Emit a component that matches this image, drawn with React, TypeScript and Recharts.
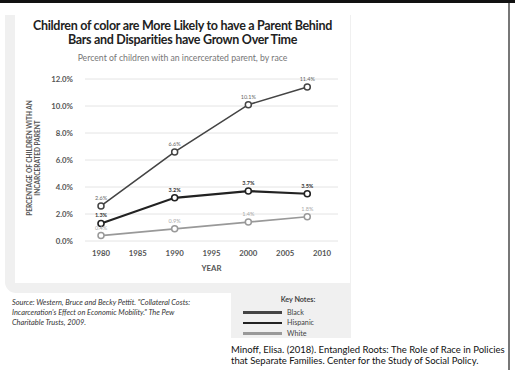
import React from 'react';
import { LineChart, Line, XAxis, YAxis, CartesianGrid, Legend } from 'recharts';

const years = [1980, 1990, 2000, 2008];
const black = [2.6, 6.6, 10.1, 11.4];
const hispanic = [1.3, 3.2, 3.7, 3.5];
const white = [0.4, 0.9, 1.4, 1.8];
const xTicks = [1980, 1985, 1990, 1995, 2000, 2005, 2010];
const yTicks = [0, 2, 4, 6, 8, 10, 12];

const data = years.map((year, i) => ({ year, Black: black[i], Hispanic: hispanic[i], White: white[i] }));

const FONT = 'Lato, sans-serif';
const pct = (v: any) => `${Number(v).toFixed(1)}%`;

const KeyNotes = ({ payload }: any) => (
  <div style={{ fontFamily: FONT, fontSize: 7.2, color: '#444', width: 120, height: 55 }}>
    <div style={{ fontWeight: 700, textAlign: 'center', paddingLeft: 14, marginTop: 12, marginBottom: 3 }}>Key Notes:</div>
    {(payload || []).map((p: any) => (
      <div key={p.value} style={{ display: 'flex', alignItems: 'center', height: 10.5 }}>
        <div style={{ marginLeft: 12, width: 39, height: 2.5, background: p.color }} />
        <span style={{ marginLeft: 5 }}>{p.value}</span>
      </div>
    ))}
  </div>
);

const App: React.FC = () => {
  return (
    <div style={{ position: 'relative', width: 515, height: 370, background: '#fff', overflow: 'hidden', fontFamily: FONT }}>
      <style>{`body{margin:0}`}</style>
      <div style={{ position: 'absolute', left: 0, top: 0, width: 515, height: 3, background: '#111' }} />
      <div style={{ position: 'absolute', left: 508, top: 3, width: 2, height: 367, background: '#777' }} />

      {/* panel */}
      <div style={{ position: 'absolute', left: 5, top: 15, width: 346, height: 278, background: '#f0f0f0', borderBottomLeftRadius: 11 }} />
      <div style={{ position: 'absolute', left: 231, top: 283, width: 120, height: 55, background: '#f0f0f0' }} />
      <div style={{ position: 'absolute', left: 15, top: 15, width: 335, height: 268, background: '#fff' }} />

      <div style={{ position: 'absolute', left: 15, top: 19, width: 335, textAlign: 'center', fontSize: 12.5, fontWeight: 700, lineHeight: '14px', color: '#222', letterSpacing: -0.3 }}>
        Children of color are More Likely to have a Parent Behind<br />Bars and Disparities have Grown Over Time
      </div>
      <div style={{ position: 'absolute', left: 15, top: 52, width: 335, textAlign: 'center', fontSize: 8.7, color: '#777' }}>
        Percent of children with an incercerated parent, by race
      </div>

      <div style={{ position: 'absolute', left: 34, top: 158, width: 0, height: 0 }}>
        <div style={{ position: 'absolute', left: -80, top: -8, width: 160, textAlign: 'center', transform: 'rotate(-90deg)', fontSize: 6.5, fontWeight: 700, lineHeight: '8px', color: '#555' }}>
          PERCENTAGE OF CHILDREN WITH AN<br />INCARCERATED PARENT
        </div>
      </div>

      <div style={{ position: 'absolute', left: 0, top: 0 }}>
        <LineChart width={351} height={370} data={data} margin={{ top: 79, right: 13, bottom: 99, left: 0 }}>
          <CartesianGrid vertical={false} stroke="#e4e4e4" />
          <XAxis
            dataKey="year"
            type="number"
            domain={[1980, 2010]}
            ticks={xTicks}
            padding={{ left: 16, right: 16 }}
            axisLine={false}
            tickLine={false}
            tickSize={0}
            tickMargin={9}
            height={30}
            tick={{ fontSize: 7.8, fontWeight: 700, fill: '#555', fontFamily: FONT }}
            label={{ value: 'YEAR', position: 'insideBottom', offset: 0, fontSize: 7.8, fontWeight: 700, fill: '#555', fontFamily: FONT }}
          />
          <YAxis
            domain={[0, 12]}
            ticks={yTicks}
            width={85}
            axisLine={false}
            tickLine={false}
            tickSize={0}
            tickMargin={12}
            tickFormatter={pct}
            tick={{ fontSize: 7.8, fontWeight: 700, fill: '#555', fontFamily: FONT }}
          />
          <Legend
            layout="vertical"
            align="center"
            verticalAlign="middle"
            content={<KeyNotes />}
            wrapperStyle={{ left: 231, top: 283, width: 120, height: 55 }}
          />
          <Line
            dataKey="Black"
            stroke="#444"
            strokeWidth={1.6}
            dot={{ r: 3, fill: '#fff', stroke: '#444', strokeWidth: 1.5 }}
            isAnimationActive={false}
            label={{ position: 'top', offset: 6, fontSize: 5.5, fill: '#666', fontFamily: FONT, formatter: pct }}
          />
          <Line
            dataKey="Hispanic"
            stroke="#222"
            strokeWidth={2.2}
            dot={{ r: 3, fill: '#fff', stroke: '#222', strokeWidth: 1.6 }}
            isAnimationActive={false}
            label={{ position: 'top', offset: 6, fontSize: 5.5, fontWeight: 700, fill: '#333', fontFamily: FONT, formatter: pct }}
          />
          <Line
            dataKey="White"
            stroke="#999"
            strokeWidth={1.6}
            dot={{ r: 3, fill: '#fff', stroke: '#999', strokeWidth: 1.5 }}
            isAnimationActive={false}
            label={{ position: 'top', offset: 6, fontSize: 5.5, fill: '#aaa', fontFamily: FONT, formatter: pct }}
          />
        </LineChart>
      </div>

      <div style={{ position: 'absolute', left: 12, top: 298, width: 220, fontSize: 7.4, fontStyle: 'italic', lineHeight: '10px', color: '#333', whiteSpace: 'nowrap' }}>
        Source: Western, Bruce and Becky Pettit. "Collateral Costs:<br />Incarceration's Effect on Economic Mobility." The Pew<br />Charitable Trusts, 2009.
      </div>

      <div style={{ position: 'absolute', left: 231, top: 344, width: 280, fontSize: 9.5, lineHeight: '11px', color: '#111', whiteSpace: 'nowrap' }}>
        Minoff, Elisa. (2018). Entangled Roots: The Role of Race in Policies<br />that Separate Families. Center for the Study of Social Policy.
      </div>
    </div>
  );
};

export default App;
